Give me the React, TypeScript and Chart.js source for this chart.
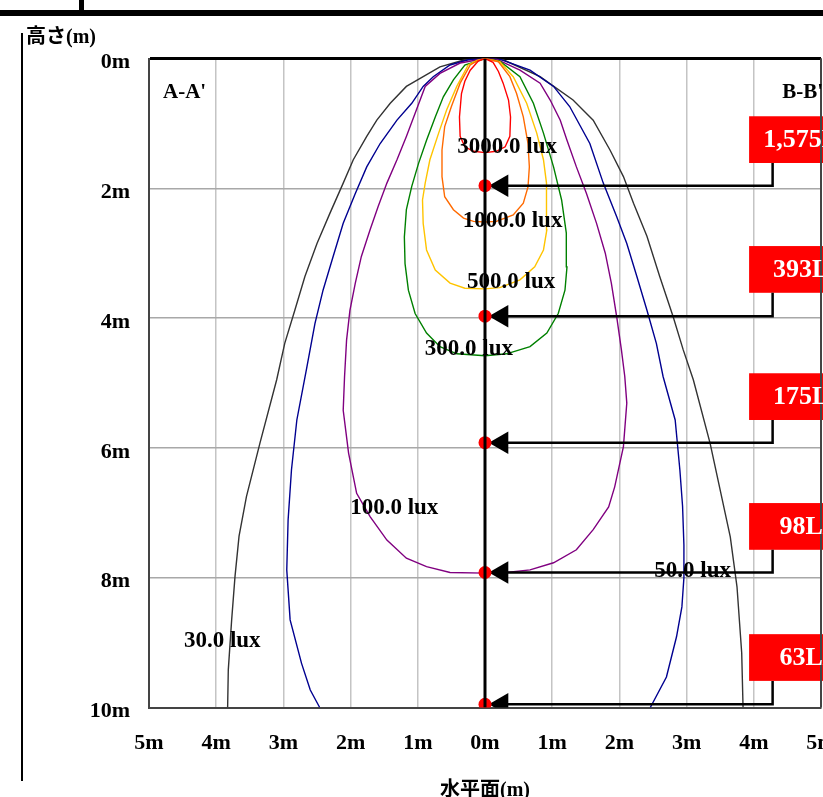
import { useEffect, useRef } from "react";
import { Chart, registerables } from "chart.js";

Chart.register(...registerables);

// ---- axis ticks ----
const xTickValues = [-5, -4, -3, -2, -1, 0, 1, 2, 3, 4, 5];
const yTickValues = [0, 2, 4, 6, 8, 10];

// ---- isolux contours (x: horizontal m, y: height m) ----
const lux3000X = [0, -0.1, -0.22, -0.3, -0.35, -0.38, -0.37, -0.3, -0.17, 0, 0.17, 0.3, 0.37, 0.38, 0.35, 0.27, 0.2, 0.12, 0];
const lux3000Y = [0, 0.04, 0.18, 0.35, 0.54, 0.9, 1.2, 1.36, 1.43, 1.45, 1.43, 1.36, 1.2, 0.9, 0.64, 0.38, 0.2, 0.06, 0];

const lux1000X = [0, -0.1, -0.22, -0.37, -0.5, -0.6, -0.64, -0.64, -0.6, -0.47, -0.32, -0.17, 0, 0.17, 0.42, 0.57, 0.64, 0.66, 0.64, 0.57, 0.47, 0.37, 0.2, 0];
const lux1000Y = [0, 0.03, 0.1, 0.38, 0.74, 1.05, 1.41, 1.82, 2.13, 2.33, 2.46, 2.51, 2.52, 2.51, 2.41, 2.23, 1.98, 1.67, 1.31, 0.9, 0.54, 0.28, 0.05, 0];

const lux500X = [0, -0.12, -0.25, -0.42, -0.57, -0.69, -0.82, -0.89, -0.93, -0.92, -0.87, -0.74, -0.52, -0.3, 0, 0.22, 0.52, 0.74, 0.87, 0.92, 0.92, 0.91, 0.87, 0.77, 0.62, 0.42, 0.22, 0];
const lux500Y = [0, 0.03, 0.1, 0.43, 0.79, 1.15, 1.56, 1.92, 2.18, 2.54, 2.95, 3.26, 3.46, 3.54, 3.55, 3.53, 3.41, 3.21, 2.95, 2.64, 2.28, 1.92, 1.56, 1.15, 0.69, 0.28, 0.05, 0];

const lux300X = [0, -0.3, -0.47, -0.62, -0.74, -0.87, -0.99, -1.09, -1.17, -1.2, -1.19, -1.14, -1.04, -0.87, -0.67, -0.42, 0, 0.32, 0.67, 0.92, 1.09, 1.19, 1.22, 1.21, 1.14, 1.02, 0.87, 0.72, 0.52, 0.22, 0];
const lux300Y = [0, 0.1, 0.33, 0.59, 0.9, 1.26, 1.62, 1.97, 2.33, 2.75, 3.16, 3.57, 3.93, 4.23, 4.44, 4.55, 4.58, 4.55, 4.44, 4.23, 3.93, 3.57, 3.21, 2.69, 2.18, 1.67, 1.15, 0.69, 0.28, 0.04, 0];

const lux100X = [0, -0.37, -0.67, -0.89, -1.02, -1.17, -1.31, -1.46, -1.59, -1.71, -1.84, -1.93, -2.01, -2.06, -2.09, -2.11, -2.03, -1.91, -1.71, -1.46, -1.17, -0.87, -0.52, 0, 0.32, 0.67, 1.02, 1.36, 1.61, 1.84, 1.93, 2.06, 2.11, 2.08, 2.03, 1.96, 1.88, 1.79, 1.66, 1.51, 1.36, 1.22, 1.12, 0.97, 0.82, 0.52, 0.17, 0];
const lux100Y = [0, 0.07, 0.23, 0.43, 0.79, 1.2, 1.56, 1.92, 2.28, 2.64, 3.05, 3.46, 3.88, 4.34, 4.9, 5.42, 6.08, 6.7, 7.06, 7.42, 7.7, 7.83, 7.92, 7.93, 7.92, 7.88, 7.77, 7.57, 7.26, 6.91, 6.6, 5.98, 5.31, 4.9, 4.49, 3.98, 3.46, 3.0, 2.54, 2.08, 1.67, 1.26, 0.95, 0.64, 0.38, 0.18, 0.01, 0];

const lux50X = [-2.46, -2.6, -2.73, -2.9, -2.95, -2.93, -2.88, -2.8, -2.65, -2.53, -2.41, -2.26, -2.11, -1.93, -1.76, -1.56, -1.31, -1.09, -0.92, -0.77, -0.52, -0.25, 0, 0.22, 0.67, 1.02, 1.26, 1.56, 1.76, 1.96, 2.11, 2.26, 2.41, 2.55, 2.65, 2.83, 2.9, 2.94, 2.96, 2.96, 2.93, 2.85, 2.7, 2.46];
const lux50Y = [10, 9.73, 9.32, 8.65, 7.88, 7.11, 6.34, 5.57, 4.75, 4.08, 3.57, 3.05, 2.54, 2.08, 1.67, 1.31, 0.95, 0.69, 0.43, 0.28, 0.1, 0.02, 0, 0.01, 0.18, 0.43, 0.74, 1.31, 1.92, 2.44, 2.85, 3.36, 3.88, 4.39, 4.9, 5.57, 6.34, 6.9, 7.5, 8.0, 8.45, 8.91, 9.53, 10];

const lux30X = [-3.83, -3.82, -3.77, -3.72, -3.66, -3.55, -3.35, -3.1, -2.98, -2.83, -2.68, -2.5, -2.31, -2.11, -1.96, -1.76, -1.61, -1.41, -1.17, -0.92, -0.67, -0.3, 0, 0.27, 0.82, 1.31, 1.61, 1.86, 2.06, 2.21, 2.41, 2.6, 2.8, 2.95, 3.1, 3.35, 3.65, 3.75, 3.82, 3.84];
const lux30Y = [10, 9.42, 8.65, 7.98, 7.36, 6.75, 5.93, 4.95, 4.39, 3.88, 3.36, 2.85, 2.39, 1.92, 1.56, 1.2, 0.95, 0.69, 0.43, 0.28, 0.13, 0.02, 0, 0.02, 0.28, 0.64, 0.95, 1.41, 1.82, 2.23, 2.74, 3.36, 3.98, 4.49, 4.95, 5.93, 7.37, 8.14, 9.16, 10];

const contourNames = ["3000.0 lux", "1000.0 lux", "500.0 lux", "300.0 lux", "100.0 lux", "50.0 lux", "30.0 lux"];
const contourColors = ["#ff0000", "#ff6a00", "#ffc400", "#008000", "#800080", "#000090", "#333333"];
const contourXs = [lux3000X, lux1000X, lux500X, lux300X, lux100X, lux50X, lux30X];
const contourYs = [lux3000Y, lux1000Y, lux500Y, lux300Y, lux100Y, lux50Y, lux30Y];
const labelX = [0.33, 0.41, 0.39, -0.24, -1.35, 3.09, -3.91];
const labelY = [1.36, 2.5, 3.44, 4.48, 6.93, 7.9, 8.98];

// ---- measuring points on the centre axis ----
const pointHeights = [1.96, 3.97, 5.92, 7.92, 9.95];
const pointLux = ["1,575Lx", "393Lx", "175Lx", "98Lx", "63Lx"];
const boxTop = [0.89, 2.89, 4.85, 6.85, 8.87];
const boxBottom = [1.61, 3.61, 5.57, 7.57, 9.59];
const boxLeft = 3.93;
const boxTextX = 4.8;
const leaderX = 4.28;
const arrowX = 0.25;

const xy = (xs: number[], ys: number[]) => xs.map((v, i) => ({ x: v, y: ys[i] }));

const SERIF = '"Liberation Serif", "Times New Roman", serif';

const overlay = {
  id: "overlay",
  beforeDatasetsDraw(chart: any) {
    const { ctx } = chart;
    const x = chart.scales.x;
    const y = chart.scales.y;
    ctx.save();
    ctx.fillStyle = "#ff0000";
    boxTop.forEach((t, i) => {
      const top = y.getPixelForValue(t);
      const bot = y.getPixelForValue(boxBottom[i]);
      const left = x.getPixelForValue(boxLeft);
      ctx.fillRect(left, top, chart.width - left, bot - top);
    });
    // right frame edge stays visible over the boxes
    ctx.fillStyle = "#444";
    ctx.fillRect(chart.chartArea.right - 1, chart.chartArea.top, 2, chart.chartArea.bottom - chart.chartArea.top);
    ctx.restore();
  },
  afterDraw(chart: any) {
    const { ctx } = chart;
    const x = chart.scales.x;
    const y = chart.scales.y;
    ctx.save();
    // page frame lines
    ctx.fillStyle = "#000";
    ctx.fillRect(0, 10, chart.width, 6);
    ctx.fillRect(79, 0, 5, 12);
    ctx.fillRect(21, 33, 2, 748);

    // axis titles
    ctx.textBaseline = "middle";
    ctx.font = `bold 20px "Liberation Serif", "Noto Sans CJK JP", serif`;
    ctx.textAlign = "left";
    ctx.fillText("高さ(m)", 26, 38);
    ctx.textAlign = "center";
    ctx.fillText("水平面(m)", 485, 791);

    // section names
    ctx.font = `bold 21px ${SERIF}`;
    ctx.textAlign = "left";
    ctx.fillText("A-A'", 163, 93);
    ctx.textAlign = "right";
    ctx.fillText("B-B'", 823, 93);

    // contour labels
    ctx.font = `bold 23px ${SERIF}`;
    ctx.textAlign = "center";
    contourNames.forEach((n, i) => {
      ctx.fillText(n, x.getPixelForValue(labelX[i]), y.getPixelForValue(labelY[i]));
    });

    // lux boxes text
    ctx.fillStyle = "#ffffff";
    ctx.font = `bold 26px ${SERIF}`;
    pointLux.forEach((t, i) => {
      const cy = (y.getPixelForValue(boxTop[i]) + y.getPixelForValue(boxBottom[i])) / 2;
      ctx.fillText(t, x.getPixelForValue(boxTextX), cy + 1);
    });
    ctx.restore();
  },
};

export default function App() {
  const ref = useRef<HTMLCanvasElement | null>(null);

  useEffect(() => {
    if (!ref.current) return;
    const contourSets = contourNames.map((n, i) => ({
      label: n,
      data: xy(contourXs[i], contourYs[i]),
      showLine: true,
      borderColor: contourColors[i],
      backgroundColor: contourColors[i],
      borderWidth: 1.4,
      pointRadius: 0,
      tension: 0,
      fill: false,
      order: 10 + i,
    }));
    const leaderSets = pointHeights.map((h, i) => ({
      label: "leader" + i,
      data: [
        { x: arrowX, y: h },
        { x: leaderX, y: h },
        { x: leaderX, y: boxBottom[i] },
      ],
      showLine: true,
      borderColor: "#000",
      borderWidth: 2.5,
      pointRadius: 0,
      fill: false,
      order: 5,
      clip: false as any,
    }));
    const chart = new Chart(ref.current, {
      type: "scatter",
      data: {
        datasets: [
          {
            label: "axis",
            data: [
              { x: 0, y: 0 },
              { x: 0, y: 10 },
            ],
            showLine: true,
            borderColor: "#000",
            borderWidth: 3,
            pointRadius: 0,
            order: 0,
          },
          {
            label: "points",
            data: pointHeights.map((h) => ({ x: 0, y: h })),
            pointRadius: 6.5,
            pointBackgroundColor: "#ff0000",
            pointBorderColor: "#ff0000",
            pointBorderWidth: 0,
            order: 1,
          },
          {
            label: "arrows",
            data: pointHeights.map((h) => ({ x: arrowX, y: h })),
            pointStyle: "triangle",
            rotation: -90,
            pointRadius: 13,
            pointBackgroundColor: "#000",
            pointBorderColor: "#000",
            pointBorderWidth: 0,
            order: 2,
          },
          ...leaderSets,
          ...contourSets,
        ] as any,
      },
      options: {
        responsive: false,
        animation: false,
        devicePixelRatio: 1,
        events: [],
        layout: { autoPadding: false, padding: { top: 58.5, right: 2, bottom: 0, left: 0 } },
        plugins: { legend: { display: false }, tooltip: { enabled: false }, title: { display: false } },
        scales: {
          x: {
            type: "linear",
            min: -5,
            max: 5,
            afterBuildTicks: (s: any) => {
              s.ticks = xTickValues.map((v) => ({ value: v }));
            },
            afterFit: (s: any) => {
              s.height = 89.5;
              s.paddingLeft = 0;
              s.paddingRight = 0;
            },
            ticks: {
              callback: (v: any) => `${Math.abs(Number(v))}m`,
              color: "#000",
              font: { family: SERIF, size: 22, weight: "bold" },
              padding: 23,
              maxRotation: 0,
              autoSkip: false,
            },
            grid: {
              drawTicks: false,
              color: (c: any) => (c.tick && c.tick.value === 5 ? "#444" : "#c4c4c4"),
              lineWidth: (c: any) => (c.tick && c.tick.value === 5 ? 2 : 1.5),
            },
            border: { color: "#444", width: 2 },
          },
          y: {
            type: "linear",
            reverse: true,
            min: 0,
            max: 10,
            afterBuildTicks: (s: any) => {
              s.ticks = yTickValues.map((v) => ({ value: v }));
            },
            afterFit: (s: any) => {
              s.width = 149;
              s.paddingTop = 0;
              s.paddingBottom = 0;
            },
            ticks: {
              callback: (v: any) => `${v}m`,
              color: "#000",
              font: { family: SERIF, size: 22, weight: "bold" },
              padding: 19,
              labelOffset: 4,
              autoSkip: false,
            },
            grid: {
              drawTicks: false,
              color: (c: any) => (c.tick && c.tick.value === 0 ? "#000" : "#a8a8a8"),
              lineWidth: (c: any) => (c.tick && c.tick.value === 0 ? 3 : 1.5),
            },
            border: { color: "#444", width: 2 },
          },
        },
      },
      plugins: [overlay],
    });
    return () => chart.destroy();
  }, []);

  return (
    <div style={{ position: "fixed", left: 0, top: 0, width: 823, height: 797, background: "#fff" }}>
      <canvas ref={ref} width={823} height={797} style={{ display: "block" }} />
    </div>
  );
}
